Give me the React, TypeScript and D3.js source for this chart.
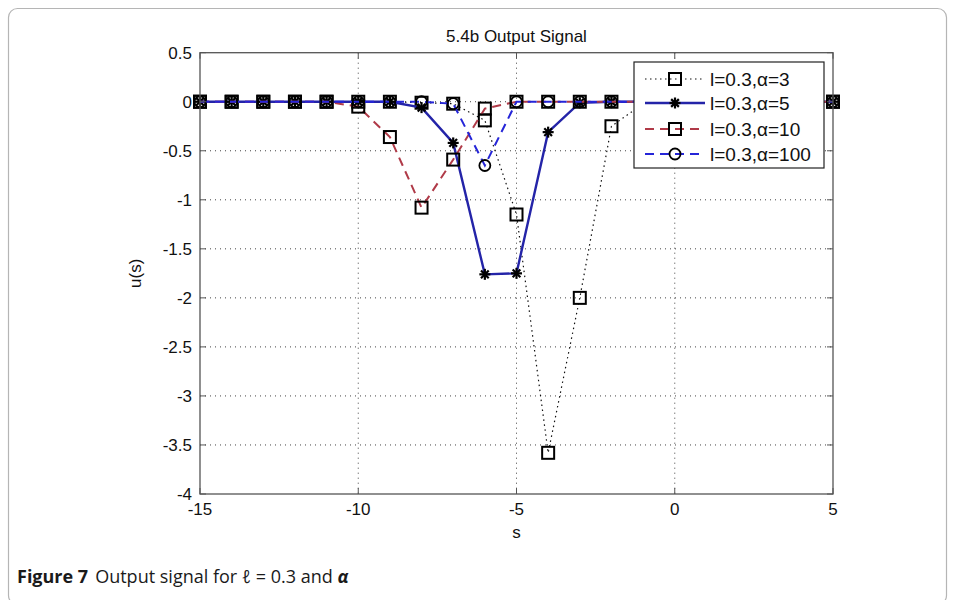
import React from "react";
import * as d3 from "d3";

// chart values
const sValues = [-15, -14, -13, -12, -11, -10, -9, -8, -7, -6, -5, -4, -3, -2, -1, 0, 1, 2, 3, 4, 5];
const uAlpha3 = [0, 0, 0, 0, 0, 0, 0, -0.01, -0.02, -0.19, -1.15, -3.58, -2.0, -0.25, -0.02, 0, 0, 0, 0, 0, 0];
const uAlpha5 = [0, 0, 0, 0, 0, 0, 0, -0.06, -0.42, -1.76, -1.75, -0.31, -0.01, 0, 0, 0, 0, 0, 0, 0, 0];
const uAlpha10 = [0, 0, 0, 0, 0, -0.05, -0.36, -1.08, -0.59, -0.07, 0, 0, 0, 0, 0, 0, 0, 0, 0, 0, 0];
const uAlpha100 = [0, 0, 0, 0, 0, 0, 0, 0, -0.02, -0.65, 0, 0, 0, 0, 0, 0, 0, 0, 0, 0, 0];

const xTicks = [-15, -10, -5, 0, 5];
const yTicks = [0.5, 0, -0.5, -1, -1.5, -2, -2.5, -3, -3.5, -4];
const legendLabels = ["l=0.3,\u03b1=3", "l=0.3,\u03b1=5", "l=0.3,\u03b1=10", "l=0.3,\u03b1=100"];

const W = 955;
const H = 600;
const plot = { left: 200, right: 833, top: 52.7, bottom: 494 };
const font = "'Liberation Sans', Arial, sans-serif";

type Series = {
  values: number[];
  color: string;
  width: number;
  dash: string;
  marker: "square" | "star" | "circle";
};

const series: Series[] = [
  { values: uAlpha3, color: "#111", width: 1.2, dash: "1.5,3.5", marker: "square" },
  { values: uAlpha5, color: "#2424a8", width: 2.4, dash: "none", marker: "star" },
  { values: uAlpha10, color: "#b03a48", width: 2, dash: "9,6", marker: "square" },
  { values: uAlpha100, color: "#2525d8", width: 2, dash: "9,6", marker: "circle" },
];

const Marker = ({ kind, x, y }: { kind: string; x: number; y: number }) => {
  if (kind === "square")
    return <rect x={x - 6} y={y - 6} width={12} height={12} fill="none" stroke="#000" strokeWidth={2} />;
  if (kind === "circle") return <circle cx={x} cy={y} r={5.5} fill="none" stroke="#000" strokeWidth={1.8} />;
  const r = 5.5;
  return (
    <g stroke="#000" strokeWidth={2.2}>
      <line x1={x - r} y1={y} x2={x + r} y2={y} />
      <line x1={x} y1={y - r} x2={x} y2={y + r} />
      <line x1={x - r * 0.7} y1={y - r * 0.7} x2={x + r * 0.7} y2={y + r * 0.7} />
      <line x1={x - r * 0.7} y1={y + r * 0.7} x2={x + r * 0.7} y2={y - r * 0.7} />
    </g>
  );
};

const App = () => {
  const x = d3.scaleLinear().domain([-15, 5]).range([plot.left, plot.right]);
  const y = d3.scaleLinear().domain([-4, 0.5]).range([plot.bottom, plot.top]);
  const line = d3
    .line<number>()
    .x((_, i) => x(sValues[i]))
    .y((d) => y(d));

  const legendX = 634;
  const legendY = 62;
  const rowY = [79, 103, 129, 154];

  return (
    <svg width={W} height={H} style={{ position: "absolute", left: 0, top: 0, background: "#fff" }}>
      {/* outer frame */}
      <rect x={8.5} y={8.5} width={938} height={596} rx={9} fill="none" stroke="#b5b5b5" strokeWidth={1.2} />

      {/* grid */}
      {xTicks.slice(1, -1).map((t) => (
        <line key={"gx" + t} x1={x(t)} x2={x(t)} y1={plot.top} y2={plot.bottom} stroke="#444" strokeDasharray="1,4" />
      ))}
      {yTicks.slice(1, -1).map((t) => (
        <line key={"gy" + t} x1={plot.left} x2={plot.right} y1={y(t)} y2={y(t)} stroke="#444" strokeDasharray="1,4" />
      ))}

      {/* series */}
      {series.map((s, k) => (
        <g key={k}>
          <path d={line(s.values) || ""} fill="none" stroke={s.color} strokeWidth={s.width} strokeDasharray={s.dash} />
          {s.values.map((v, i) => (
            <Marker key={i} kind={s.marker} x={x(sValues[i])} y={y(v)} />
          ))}
        </g>
      ))}

      {/* axes box */}
      <rect x={plot.left} y={plot.top} width={plot.right - plot.left} height={plot.bottom - plot.top} fill="none" stroke="#555" strokeWidth={1.3} />
      {xTicks.map((t) => (
        <g key={"xt" + t}>
          <line x1={x(t)} x2={x(t)} y1={plot.bottom} y2={plot.bottom - 6} stroke="#555" />
          <line x1={x(t)} x2={x(t)} y1={plot.top} y2={plot.top + 6} stroke="#555" />
          <text x={x(t)} y={plot.bottom + 21} textAnchor="middle" fontSize={17} fontFamily={font} fill="#111">
            {t}
          </text>
        </g>
      ))}
      {yTicks.map((t) => (
        <g key={"yt" + t}>
          <line x1={plot.left} x2={plot.left + 6} y1={y(t)} y2={y(t)} stroke="#555" />
          <line x1={plot.right} x2={plot.right - 6} y1={y(t)} y2={y(t)} stroke="#555" />
          <text x={plot.left - 8} y={y(t) + 6} textAnchor="end" fontSize={17} fontFamily={font} fill="#111">
            {t}
          </text>
        </g>
      ))}

      {/* titles */}
      <text x={(plot.left + plot.right) / 2} y={41.5} textAnchor="middle" fontSize={17} fontFamily={font} fill="#111">
        5.4b Output Signal
      </text>
      <text x={(plot.left + plot.right) / 2} y={538} textAnchor="middle" fontSize={17} fontFamily={font} fill="#111">
        s
      </text>
      <text transform={`translate(141,${(plot.top + plot.bottom) / 2}) rotate(-90)`} textAnchor="middle" fontSize={17} fontFamily={font} fill="#111">
        u(s)
      </text>

      {/* legend */}
      <rect x={legendX} y={legendY} width={190} height={106} fill="#fff" stroke="#222" strokeWidth={1.2} />
      {series.map((s, k) => (
        <g key={"lg" + k}>
          <line x1={645} x2={705} y1={rowY[k]} y2={rowY[k]} stroke={s.color} strokeWidth={s.width} strokeDasharray={s.dash} />
          <Marker kind={s.marker} x={675} y={rowY[k]} />
          <text x={710} y={rowY[k] + 7} fontSize={19} fontFamily={font} fill="#111">
            {legendLabels[k]}
          </text>
        </g>
      ))}

      {/* caption */}
      <text x={17} y={583} fontSize={18} fontFamily="'Open Sans', sans-serif" fill="#1a1a1a">
        <tspan fontWeight="bold">Figure 7</tspan>
        <tspan dx={7}>Output signal for </tspan>
        <tspan fontStyle="italic">{"\u2113"}</tspan>
        <tspan>{" = 0.3 and "}</tspan>
        <tspan fontWeight="bold" fontStyle="italic">{"\u03b1"}</tspan>
      </text>
    </svg>
  );
};

export default App;
